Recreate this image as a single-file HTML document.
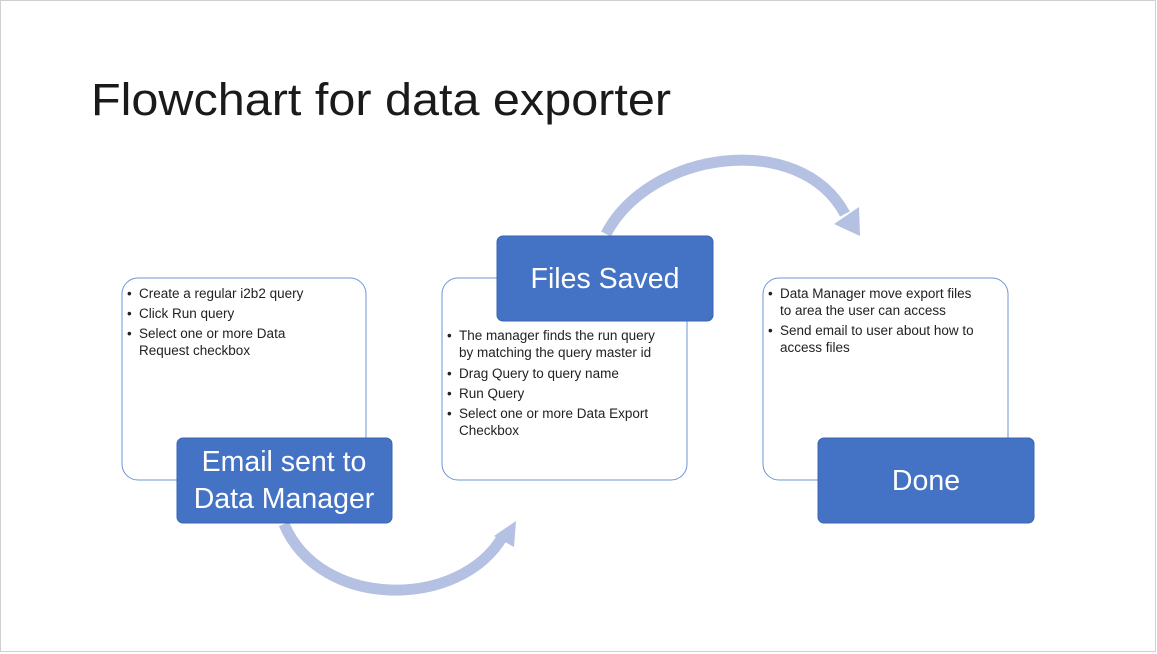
<!DOCTYPE html>
<html><head><meta charset="utf-8"><style>
html,body{margin:0;padding:0;background:#fff}
svg{display:block}
text{font-family:"Liberation Sans","DejaVu Sans",sans-serif}
</style></head><body>
<svg width="1157" height="654" viewBox="0 0 1157 654" xmlns="http://www.w3.org/2000/svg">
<rect x="0.5" y="0.5" width="1155" height="651" fill="#fff" stroke="#d0d0d0"/>
<text x="91" y="115" font-size="45" fill="#1a1a1a" textLength="580" lengthAdjust="spacingAndGlyphs">Flowchart for data exporter</text>

<path d="M606,234 C650,150 800,130 845,214" fill="none" stroke="#B4C1E2" stroke-width="11"/>
<polygon points="834,224 860,236 859,207" fill="#B4C1E2"/>
<path d="M284,524 C320,610 460,610 503,536" fill="none" stroke="#B4C1E2" stroke-width="11"/>
<polygon points="494,536 514,547 516,521" fill="#B4C1E2"/>

<rect x="122" y="278" width="244" height="202" rx="16" fill="#fff" stroke="#6f94d6" stroke-width="1"/>
<rect x="442" y="278" width="245" height="202" rx="16" fill="#fff" stroke="#6f94d6" stroke-width="1"/>
<rect x="763" y="278" width="245" height="202" rx="16" fill="#fff" stroke="#6f94d6" stroke-width="1"/>

<g font-size="13.5" fill="#222">
<text x="127" y="298">•</text><text x="139" y="298">Create a regular i2b2 query</text>
<text x="127" y="318">•</text><text x="139" y="318">Click Run query</text>
<text x="127" y="338">•</text><text x="139" y="338">Select one or more Data</text>
<text x="139" y="355">Request checkbox</text>

<text x="447" y="340">•</text><text x="459" y="340">The manager finds the run query</text>
<text x="459" y="357">by matching the query master id</text>
<text x="447" y="378">•</text><text x="459" y="378">Drag Query to query name</text>
<text x="447" y="398">•</text><text x="459" y="398">Run Query</text>
<text x="447" y="418">•</text><text x="459" y="418">Select one or more Data Export</text>
<text x="459" y="435">Checkbox</text>

<text x="768" y="298">•</text><text x="780" y="298">Data Manager move export files</text>
<text x="780" y="315">to area the user can access</text>
<text x="768" y="335">•</text><text x="780" y="335">Send email to user about how to</text>
<text x="780" y="352">access files</text>
</g>

<rect x="177" y="438" width="215" height="85" rx="6" fill="#4472C4" stroke="#3a64b0"/>
<rect x="497" y="236" width="216" height="85" rx="6" fill="#4472C4" stroke="#3a64b0"/>
<rect x="818" y="438" width="216" height="85" rx="6" fill="#4472C4" stroke="#3a64b0"/>
<g fill="#fff" font-size="28.5" text-anchor="middle">
<text x="284" y="471">Email sent to</text>
<text x="284" y="508">Data Manager</text>
<text x="605" y="288">Files Saved</text>
<text x="926" y="490">Done</text>
</g>
</svg>
</body></html>
